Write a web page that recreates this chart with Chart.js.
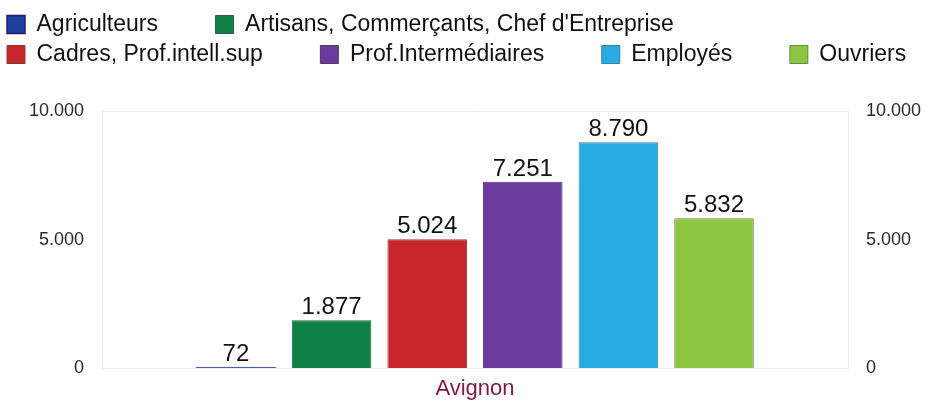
<!DOCTYPE html>
<html>
<head>
<meta charset="utf-8">
<style>
  html, body { margin: 0; padding: 0; background: #fff; }
  #wrap { width: 926px; height: 405px; }
</style>
<script src="https://cdn.jsdelivr.net/npm/chart.js@4/dist/chart.umd.min.js"></script>
</head>
<body>
<div id="wrap"><canvas id="chart"></canvas></div>
<script>
const categories = ['Avignon'];
const seriesNames = ['Agriculteurs', 'Artisans, Commerçants, Chef d\'Entreprise', 'Cadres, Prof.intell.sup', 'Prof.Intermédiaires', 'Employés', 'Ouvriers'];
const seriesValues = [72, 1877, 5024, 7251, 8790, 5832];
const seriesColors = ['#1f3f98', '#0f8046', '#c9252c', '#6c3a9c', '#27abe2', '#8cc53f'];
const seriesBorders = ['#221f70', '#2f5e44', '#8a3a3c', '#4e3a6a', '#3f7f9c', '#6a8a48'];
const yTicks = [0, 5000, 10000];

const fmt = v => v.toLocaleString('de-DE');

Chart.defaults.font.family = '"Liberation Sans", Arial, sans-serif';

// keep legend block a fixed height so the plot starts where the original does
const legendHeight = {
  id: 'legendHeight',
  beforeInit(chart) {
    const fit = chart.legend.fit;
    chart.legend.fit = function () {
      fit.call(this);
      this.height = 105;
    };
  }
};

const valueLabels = {
  id: 'valueLabels',
  afterDatasetsDraw(chart) {
    const { ctx } = chart;
    ctx.save();
    ctx.font = '24px "Liberation Sans", Arial, sans-serif';
    ctx.fillStyle = '#111';
    ctx.textAlign = 'center';
    ctx.textBaseline = 'alphabetic';
    chart.data.datasets.forEach((ds, i) => {
      chart.getDatasetMeta(i).data.forEach((bar, j) => {
        ctx.fillText(fmt(ds.data[j]), bar.x, bar.y - 6);
      });
    });
    ctx.restore();
  }
};

const datasets = seriesNames.map((name, i) => ({
  label: name,
  data: [seriesValues[i]],
  backgroundColor: seriesColors[i],
  borderColor: seriesBorders[i],
  borderWidth: i === 0 ? 1.5 : 1,
  categoryPercentage: 0.769,
  barPercentage: 0.832
}));

const yAxis = (pos, width) => ({
  position: pos,
  min: 0,
  max: 10000,
  afterBuildTicks: s => { s.ticks = yTicks.map(v => ({ value: v })); },
  afterFit: s => { s.width = width; },
  ticks: {
    padding: 18,
    color: '#2a2a2a',
    font: { size: 18 },
    callback: v => fmt(v)
  },
  grid: {
    display: pos === 'left',
    drawTicks: false,
    color: c => (c.tick && c.tick.value === 5000 ? 'rgba(0,0,0,0)' : '#ececec')
  },
  border: { display: true, color: '#ececec' }
});

new Chart(document.getElementById('chart'), {
  type: 'bar',
  data: { labels: categories, datasets },
  options: {
    responsive: true,
    maintainAspectRatio: false,
    animation: false,
    layout: { padding: { top: 6, left: 0, right: 0, bottom: 0 } },
    plugins: {
      tooltip: { enabled: false },
      legend: {
        position: 'top',
        align: 'start',
        labels: {
          boxWidth: 18,
          boxHeight: 18,
          padding: 7,
          color: '#111',
          font: { size: 23 },
          generateLabels: chart => {
            const items = Chart.defaults.plugins.legend.labels.generateLabels(chart);
            items.forEach((it, i) => {
              if (i < items.length - 1) it.text += '\u2002\u2002\u2002\u2002\u2009';
            });
            return items;
          }
        }
      }
    },
    scales: {
      x: {
        afterFit: s => { s.height = 36.5; },
        grid: { display: false, drawTicks: false },
        border: { display: true, color: '#ececec' },
        ticks: { padding: 7, color: '#7d1a40', font: { size: 22 } }
      },
      y: yAxis('left', 102),
      y2: yAxis('right', 78)
    }
  },
  plugins: [legendHeight, valueLabels]
});
</script>
</body>
</html>
